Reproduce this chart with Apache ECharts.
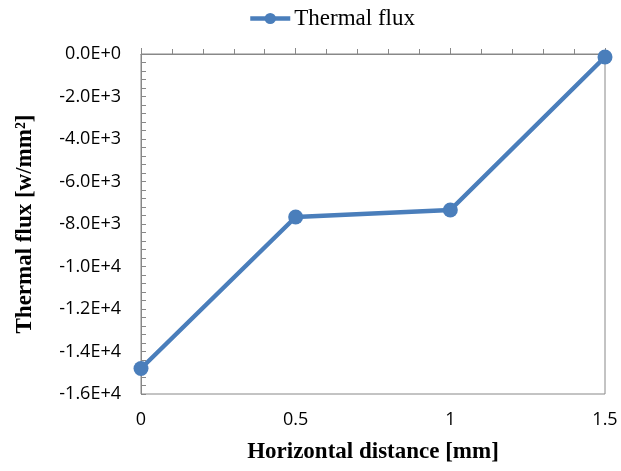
<!DOCTYPE html>
<html>
<head>
<meta charset="utf-8">
<script src="https://cdn.jsdelivr.net/npm/echarts@6/dist/echarts.min.js"></script>
<style>
html,body{margin:0;padding:0;background:#fff;}
#chart{width:621px;height:471px;}
</style>
</head>
<body>
<div id="chart"></div>
<script>
// horizontal distance [mm] and thermal flux [w/mm2]
var distance = [0, 0.5, 1, 1.5];
var flux = [-14800, -7670, -7340, -140];

var points = [];
for (var i = 0; i < distance.length; i++) {
    points.push([distance[i], flux[i]]);
}

var chart = echarts.init(document.getElementById('chart'));
chart.setOption({
    animation: false,
    legend: {
        top: 2,
        left: 243,
        itemWidth: 40,
        itemHeight: 14,
        lineStyle: {width: 4.5},
        textStyle: {fontFamily: 'Liberation Serif', fontSize: 23, color: '#000', padding: [0, 0, 0, -1]},
        data: ['Thermal flux']
    },
    grid: {
        left: 141, right: 16, top: 54, bottom: 77,
        show: true, borderColor: '#888', borderWidth: 1
    },
    xAxis: {
        type: 'value',
        min: 0, max: 1.5, interval: 0.5,
        name: 'Horizontal distance [mm]',
        nameLocation: 'middle',
        nameGap: 47,
        nameTextStyle: {fontFamily: 'Liberation Serif', fontSize: 23, fontWeight: 'bold', color: '#000'},
        axisLine: {lineStyle: {color: '#888'}},
        axisTick: {inside: true, length: 6, lineStyle: {color: '#888'}},
        minorTick: {show: true, splitNumber: 5, length: 5, lineStyle: {color: '#888'}},
        splitLine: {show: false},
        axisLabel: {fontFamily: 'Open Sans', fontSize: 18, color: '#000', margin: 17,
            formatter: function (v) { return String(v); }}
    },
    yAxis: {
        type: 'value',
        min: -16000, max: 0, interval: 2000,
        name: 'Thermal flux [w/mm²]',
        nameLocation: 'middle',
        nameGap: 104,
        nameTextStyle: {fontFamily: 'Liberation Serif', fontSize: 23, fontWeight: 'bold', color: '#000'},
        axisLine: {show: true, lineStyle: {color: '#888'}},
        axisTick: {inside: true, length: 5, lineStyle: {color: '#888'}},
        minorTick: {show: true, splitNumber: 5, length: 5, lineStyle: {color: '#888'}},
        splitLine: {show: false},
        axisLabel: {fontFamily: 'Open Sans', fontSize: 18, color: '#000', margin: 20,
            formatter: function (v) { return v.toExponential(1).toUpperCase(); }}
    },
    series: [{
        name: 'Thermal flux',
        type: 'line',
        data: points,
        symbol: 'circle',
        symbolSize: 15,
        itemStyle: {color: '#4a7ebb'},
        lineStyle: {width: 4.5, color: '#4a7ebb'}
    }]
});
</script>
</body>
</html>
